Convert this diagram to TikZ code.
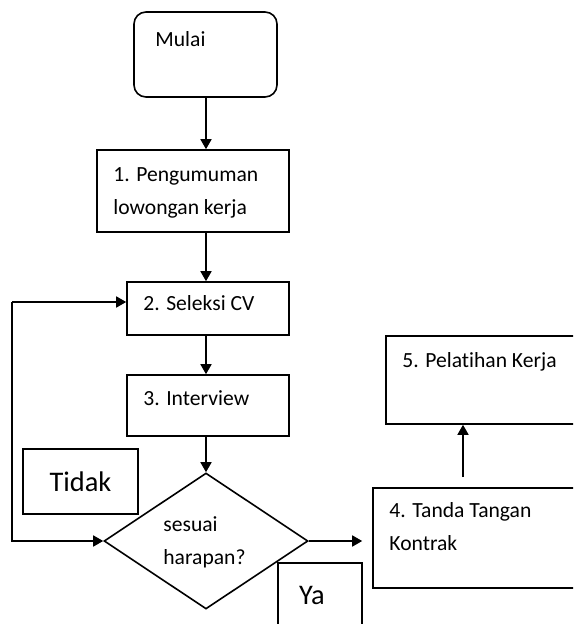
\documentclass[tikz,border=0pt]{standalone}
\usepackage{fontspec}
\setmainfont[Ligatures=NoCommon]{Carlito}
\usetikzlibrary{arrows.meta,positioning,shapes.geometric}

\begin{document}
\begin{tikzpicture}[x=0.5pt,y=-0.5pt,
  box/.style={draw, line width=0.8pt, inner sep=0pt},
  txt/.style={anchor=base west, inner sep=0pt, align=left,
              font=\fontsize{10.8}{16.5}\selectfont},
  big/.style={inner sep=0pt, font=\fontsize{14.2}{17}\selectfont},
  arr/.style={line width=0.8pt, -{Triangle[length=5pt,width=5.5pt]}}
]
\useasboundingbox (0,0) rectangle (573,624);
\clip (0,0) rectangle (573,624);

% kotak proses
\node[box, rounded corners=6pt, minimum width=71.5pt, minimum height=42.5pt] (mulai) at (205.5,54.5) {};
\node[box, minimum width=96pt, minimum height=41pt] (b1) at (193,191) {};
\node[box, minimum width=81pt, minimum height=26.5pt] (b2) at (208,308.5) {};
\node[box, minimum width=81pt, minimum height=30.5pt] (b3) at (208,405.5) {};
\node[box, shape=diamond, minimum width=102pt, minimum height=68pt] (dec) at (206,541) {};
\node[box, minimum width=103.5pt, minimum height=50pt] (b4) at (476.5,538) {};
\node[box, minimum width=97pt, minimum height=44pt] (b5) at (483,380) {};
\node[box, minimum width=57.5pt, minimum height=32.5pt] (tidak) at (80.5,481.5) {};
\node[box, minimum width=42pt, minimum height=38.5pt] (ya) at (320,601.5) {};

% teks
\node[txt] (tmulai) at (155,47) {Mulai};
\node[txt] (t1) at (113,215) {1. Pengumuman\\lowongan kerja};
\node[txt] (t2) at (143,310) {2. Seleksi CV};
\node[txt] (t3) at (143,405) {3. Interview};
\node[txt] (tdec) at (163,564) {sesuai\\harapan?};
\node[txt] (t4) at (389,550) {4. Tanda Tangan\\Kontrak};
\node[txt] (t5) at (402,367) {5. Pelatihan Kerja};
\node[big] (ttidak) at (tidak) {Tidak};
\node[big] (tya) at (312,595) {Ya};

% panah
\coordinate (loop) at (12,541);
\coordinate (looptop) at (12,302);
\coordinate (naik) at (463,477);
\draw[arr] (mulai.south -| dec) -- (b1.north -| dec);
\draw[arr] (b1.south -| dec) -- (b2.north -| dec);
\draw[arr] (b2.south -| dec) -- (b3.north -| dec);
\draw[arr] (b3.south -| dec) -- (dec.north);
\draw[arr] (looptop) -- (looptop -| b2.west);
\draw[arr] (looptop) -- (loop) -- (dec.west);
\draw[arr, shorten >=5pt] (dec.east) -- (dec.east -| b4.west);
\draw[arr] (naik) -- (naik |- b5.south);
\end{tikzpicture}
\end{document}
